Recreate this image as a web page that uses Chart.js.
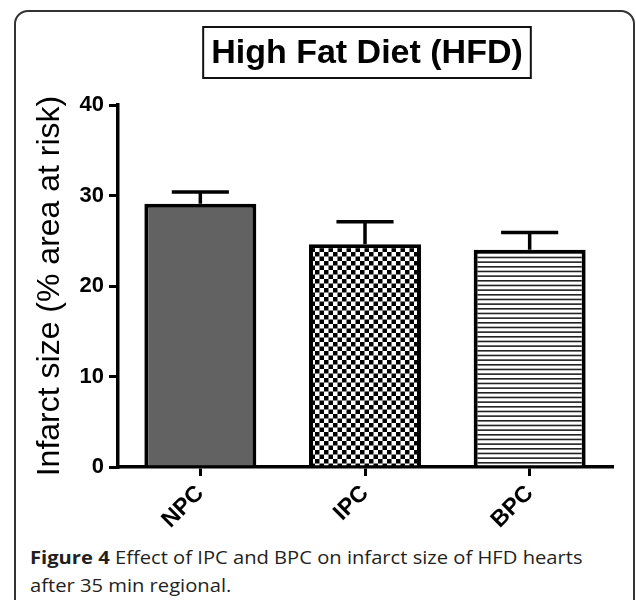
<!DOCTYPE html>
<html>
<head>
<meta charset="utf-8">
<script src="https://cdn.jsdelivr.net/npm/chart.js@4.4.1/dist/chart.umd.min.js"></script>
<style>
body{margin:0;background:#fff;width:636px;height:600px;overflow:hidden;position:relative;}
#frame{position:absolute;left:14px;top:10px;width:621px;height:640px;border:2px solid #333;border-radius:14px;box-sizing:border-box;}
#wrap{position:absolute;left:0;top:0;width:636px;height:540px;}
#caption{position:absolute;left:30px;top:543px;font:18px "Open Sans",sans-serif;line-height:28px;color:#231f20;white-space:nowrap;transform:scaleX(1.12);transform-origin:0 0;}
</style>
</head>
<body>
<div id="frame"></div>
<div id="wrap"><canvas id="chart" width="636" height="540"></canvas></div>
<div id="caption"><b>Figure 4</b> Effect of IPC and BPC on infarct size of HFD hearts<br>after 35 min regional.</div>
<script>
const titleText = "High Fat Diet (HFD)";
const yTitle = "Infarct size (% area at risk)";
const groups = ["NPC", "IPC", "BPC"];
const means = [29.1, 24.6, 24.0];
const errors = [1.3, 2.5, 1.9];
const yTicks = [0, 10, 20, 30, 40];

const canvas = document.getElementById("chart");
const ctx = canvas.getContext("2d");

// fill patterns for IPC (checker) and BPC (horizontal lines)
function checker(){
  const c = document.createElement("canvas");
  c.width = 9; c.height = 9;
  const x = c.getContext("2d");
  x.fillStyle = "#fff"; x.fillRect(0,0,9,9);
  x.fillStyle = "#000";
  x.fillRect(0,0,4.5,4.5);
  x.fillRect(4.5,4.5,4.5,4.5);
  return ctx.createPattern(c, "repeat");
}
function stripes(){
  const c = document.createElement("canvas");
  c.width = 14; c.height = 14;
  const x = c.getContext("2d");
  x.fillStyle = "#fff"; x.fillRect(0,0,14,14);
  x.fillStyle = "#222";
  [0, 4.67, 9.33].forEach(y=>x.fillRect(0,y,14,1.6));
  return ctx.createPattern(c, "repeat");
}

const errorBars = {
  id: "errorBars",
  afterDatasetsDraw(chart){
    const y = chart.scales.y;
    const meta = chart.getDatasetMeta(0);
    const c = chart.ctx;
    c.save();
    c.strokeStyle = "#000";
    c.lineWidth = 3.5;
    meta.data.forEach((bar,i)=>{
      const top = y.getPixelForValue(means[i]+errors[i]);
      const half = bar.width*0.255;
      c.beginPath();
      c.moveTo(bar.x, bar.y); c.lineTo(bar.x, top);
      c.moveTo(bar.x-half, top); c.lineTo(bar.x+half, top);
      c.stroke();
    });
    c.restore();
  }
};

const titleBox = {
  id: "titleBox",
  afterDraw(chart){
    const a = chart.chartArea;
    const c = chart.ctx;
    c.save();
    c.font = 'bold 34px "Liberation Sans", Arial, sans-serif';
    const w = c.measureText(titleText).width;
    const cx = (a.left+a.right)/2 + 2;
    c.fillStyle = "#000";
    c.textAlign = "center";
    c.textBaseline = "alphabetic";
    c.fillText(titleText, cx, a.top-42);
    c.lineWidth = 2;
    c.strokeStyle = "#111";
    c.strokeRect(cx-w/2-8, a.top-78, w+16, 51);
    c.restore();
  }
};

const pad = { left:31, right:24, top:105, bottom:0 };
const tickFont = { family:"Liberation Sans", size:22, weight:"bold" };

new Chart(canvas, {
  type: "bar",
  data: {
    labels: groups,
    datasets: [{
      data: means,
      backgroundColor: ["#626262", checker(), stripes()],
      borderColor: "#000",
      borderWidth: 4,
      barPercentage: 0.68,
      categoryPercentage: 1
    }]
  },
  options: {
    responsive: false,
    animation: false,
    layout: { padding: pad },
    plugins: { legend:{display:false}, tooltip:{enabled:false}, title:{display:false} },
    scales: {
      x: {
        offset: true,
        afterFit: s=>{ s.height = 73; },
        border: { display:true, color:"#000", width:3.5 },
        grid: { display:true, drawOnChartArea:false, drawTicks:true, tickLength:9, color:"#000", lineWidth:3, offset:false },
        ticks: { color:"#000", maxRotation:45, minRotation:45, padding:4, font:{ family:"Liberation Sans", size:23, weight:"bold" } }
      },
      y: {
        min: 0, max: 40,
        afterBuildTicks: s=>{ s.ticks = yTicks.map(v=>({value:v})); },
        afterFit: s=>{ s.width = 118 - pad.left; },
        border: { display:true, color:"#000", width:3.5 },
        grid: { display:true, drawOnChartArea:false, drawTicks:true, tickLength:9, color:"#000", lineWidth:3 },
        ticks: { color:"#000", padding:5, font:tickFont },
        title: { display:true, text:yTitle, color:"#000", font:{ family:"Liberation Sans", size:32 }, padding:{top:0,bottom:0} }
      }
    }
  },
  plugins: [errorBars, titleBox]
});
</script>
</body>
</html>
